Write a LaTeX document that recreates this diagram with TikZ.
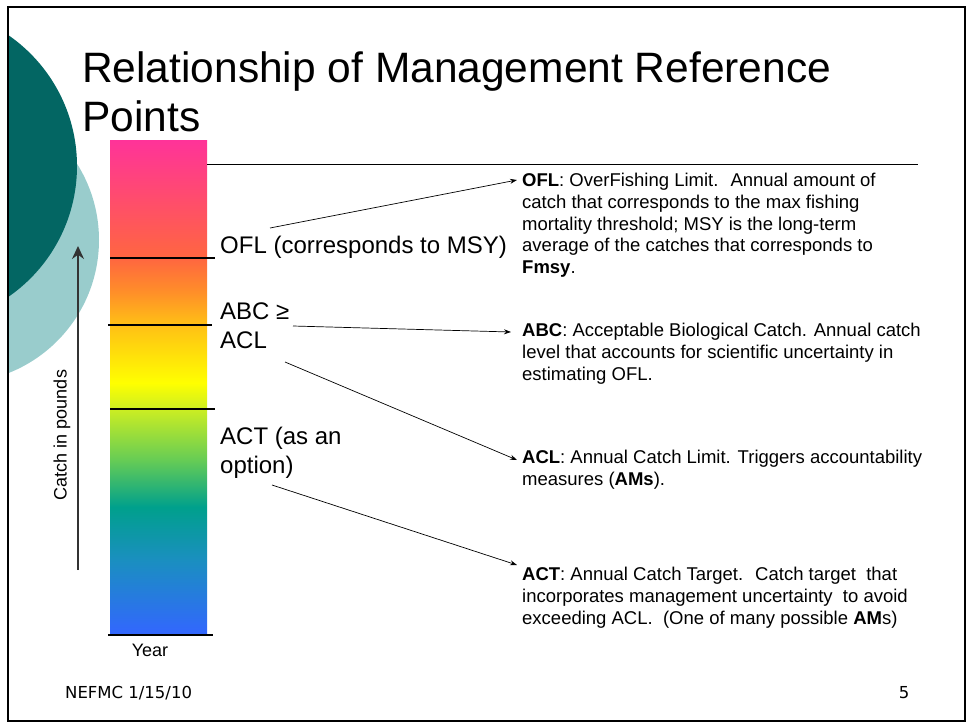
\documentclass[tikz,border=0pt]{standalone}
\usepackage{fontspec}
\setmainfont{Liberation Sans}
\newfontfamily\footfont{DejaVu Sans}
\usetikzlibrary{arrows.meta,positioning,calc}

\definecolor{darkteal}{HTML}{036663}
\definecolor{lightteal}{HTML}{99CCCC}
\definecolor{barpink}{HTML}{FF3399}
\definecolor{barred}{HTML}{FF6640}
\definecolor{barorange}{HTML}{FF8C2A}
\definecolor{baramber}{HTML}{FFC015}
\definecolor{baryellow}{HTML}{FFFF00}
\definecolor{barlime}{HTML}{CCEE22}
\definecolor{bargreen}{HTML}{66CC55}
\definecolor{barteal}{HTML}{00A08C}
\definecolor{barcyan}{HTML}{1A8FC0}
\definecolor{barblue}{HTML}{3366FF}

\pgfdeclareverticalshading{catchbar}{100bp}{color(0bp)=(barblue); color(25bp)=(barblue);
  color(32.58bp)=(barcyan); color(37.93bp)=(barteal); color(42.68bp)=(bargreen);
  color(47.83bp)=(barlime); color(50.45bp)=(baryellow); color(56.31bp)=(baramber);
  color(59.85bp)=(barorange); color(63.08bp)=(barred); color(75bp)=(barpink);
  color(100bp)=(barpink)}

\begin{document}
\begin{tikzpicture}[x=1pt,y=-1pt]
	\tikzstyle{cutline}=[draw=black, line width=1.4pt]
	\tikzstyle{reflabel}=[font=\fontsize{24}{29}\selectfont, align=left, inner sep=0pt]
	\tikzstyle{refnote}=[font=\fontsize{18.5}{21.7}\selectfont, align=left, inner sep=0pt, anchor=north west]
	\tikzstyle{pointer}=[-{Stealth[length=7pt,width=5pt]}, line width=0.7pt]

	\useasboundingbox (0,0) rectangle (967,723);

	% background circles
	\begin{scope}
		\clip (8,7) rectangle (965,721);
		\fill[lightteal] (-44,240) circle[radius=143pt];
		\fill[darkteal] (-82,166) circle[radius=159pt];
	\end{scope}
	\draw[line width=2pt] (8,7) rectangle (965,721);

	% title
	\node[font=\fontsize{42.5}{49}\selectfont, align=left, inner sep=0pt, anchor=north west] (title) at (82,52)
		{Relationship of Management Reference\\Points};

	% catch bar
	\shade[shading=catchbar] (110,140) rectangle (207,635);
	\draw[line width=1pt] (207,164) -- (918,164);
	\draw[cutline] (110,258) -- (215,258);
	\draw[cutline] (108,325) -- (212,325);
	\draw[cutline] (110,409) -- (215,409);
	\draw[cutline] (108,635) -- (213,635);

	\coordinate (axisfoot) at (78,570);
	\coordinate (axishead) at (78,246);
	\draw[-{Stealth[length=13pt,width=12pt]}, line width=1.5pt, draw=black!80, fill=black!80] (axisfoot) -- (axishead);
	\node[font=\fontsize{18}{21}\selectfont, rotate=90, inner sep=0pt] (catch) at (62,435) {Catch in pounds};
	\node[font=\fontsize{18}{21}\selectfont, inner sep=0pt] (year) at (150,650) {Year};

	% reference points
	\node[reflabel, anchor=base west] (ofl) at (220,253) {OFL (corresponds to MSY)};
	\node[reflabel, anchor=north west] (abcacl) at (220,303) {ABC ≥\\ACL};
	\node[reflabel, anchor=north west] (act) at (220,427) {ACT (as an\\option)};

	% definitions
	\node[refnote] (oflnote) at (522,173) {\textbf{OFL}: OverFishing Limit.~ Annual amount of\\catch that corresponds to the max fishing\\mortality threshold; MSY is the long-term\\average of the catches that corresponds to\\\textbf{Fmsy}.};
	\node[refnote] (abcnote) at (522,323) {\textbf{ABC}: Acceptable Biological Catch. Annual catch\\level that accounts for scientific uncertainty in\\estimating OFL.};
	\node[refnote] (aclnote) at (522,450) {\textbf{ACL}: Annual Catch Limit. Triggers accountability\\measures (\textbf{AMs}).};
	\node[refnote] (actnote) at (522,567) {\textbf{ACT}: Annual Catch Target.~ Catch target~ that\\incorporates management uncertainty~ to avoid\\exceeding ACL.~ (One of many possible \textbf{AM}s)};

	\coordinate (oflfrom) at (270,228);
	\coordinate (abcfrom) at (293,326);
	\coordinate (aclfrom) at (285,362);
	\coordinate (actfrom) at (272,485);

	\draw[pointer] (oflfrom) -- ($(oflnote.north west)+(-5,7)$);
	\draw[pointer] (abcfrom) -- ($(abcnote.north west)+(-11,9)$);
	\draw[pointer] (aclfrom) -- ($(aclnote.north west)+(-5,10)$);
	\draw[pointer] (actfrom) -- ($(actnote.north west)+(-5,-2)$);

	% footer
	\node[font=\footfont\fontsize{16.5}{19}\selectfont, anchor=west, inner sep=0pt] (date) at (65,693) {NEFMC 1/15/10};
	\node[font=\footfont\fontsize{16.5}{19}\selectfont, inner sep=0pt] (page) at (904,693) {5};
\end{tikzpicture}
\end{document}
